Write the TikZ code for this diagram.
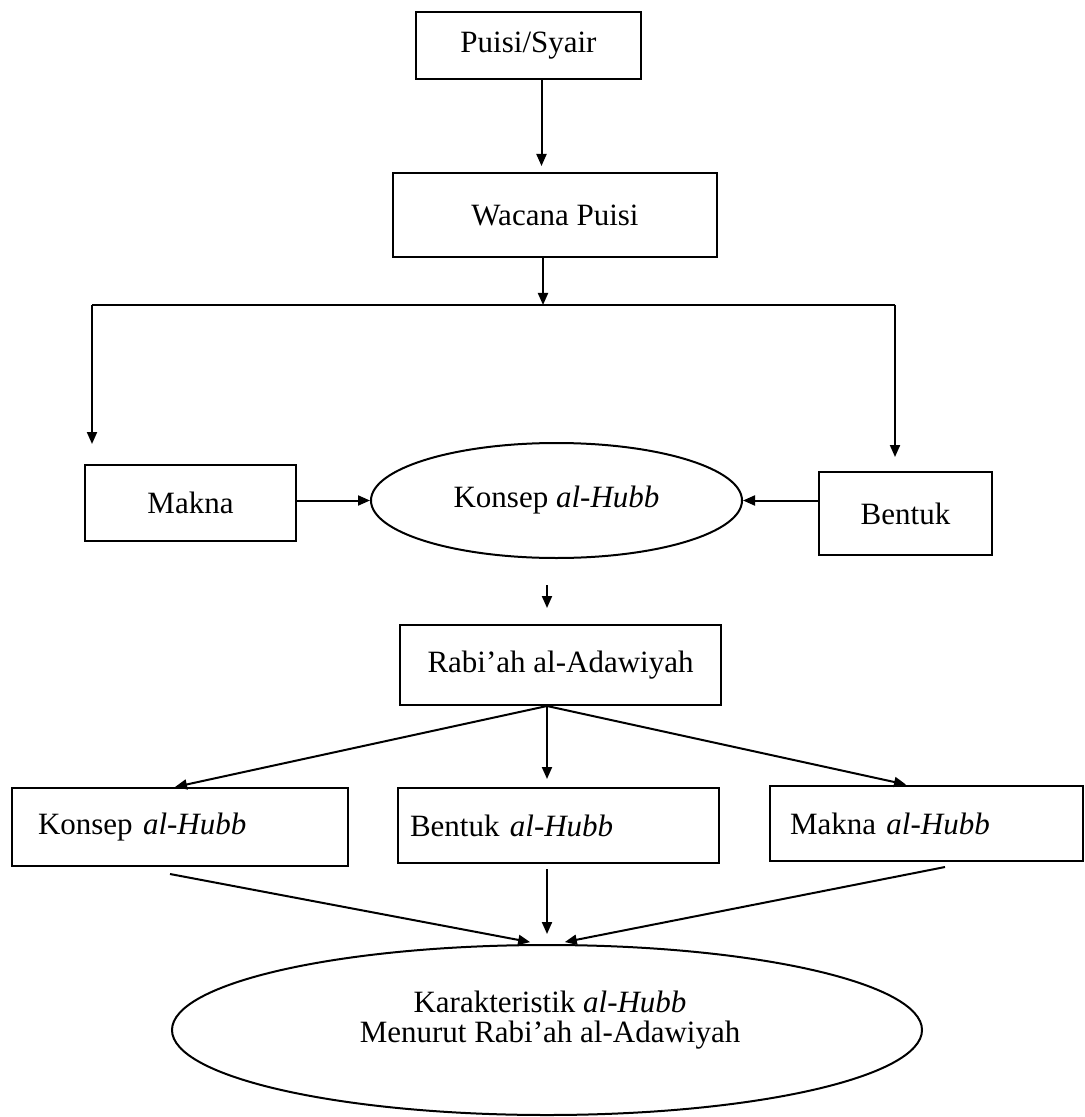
\documentclass[tikz,border=0pt]{standalone}
\usepackage{fontspec}
\setmainfont{Liberation Serif}
\usetikzlibrary{shapes.geometric,arrows.meta,calc}
\begin{document}
\begin{tikzpicture}[x=0.5pt,y=-0.5pt,
  txt/.style={font=\fontsize{15.5}{19}\selectfont},
  box/.style={draw, line width=1pt, rectangle, inner sep=0pt, txt},
  oval/.style={draw, line width=1pt, ellipse, inner sep=0pt, txt},
  arr/.style={-{Triangle[length=6pt,width=5pt]}, line width=1pt},
  ln/.style={line width=1pt}]
\fill[white] (0,0) rectangle (1084,1117);
\useasboundingbox (0,0) rectangle (1084,1117);

\node[box, minimum width=112.5pt, minimum height=33.5pt] (puisi) at (528.5,45.5) {Puisi/Syair};
\node[box, minimum width=162pt, minimum height=42pt] (wacana) at (555,215) {Wacana Puisi};
\node[box, minimum width=105.5pt, minimum height=38pt] (makna) at (190.5,503) {Makna};
\node[oval, minimum width=185.5pt, minimum height=57.5pt] (konsep) at (556.5,500.5) {Konsep \textit{al-Hubb}};
\node[box, minimum width=86.5pt, minimum height=41.5pt] (bentuk) at (905.5,513.5) {Bentuk};
\node[box, minimum width=160.5pt, minimum height=40pt] (rabiah) at (560.5,665) {Rabi’ah al-Adawiyah};
\node[box, minimum height=39pt, text width=142pt, inner xsep=13pt, align=left] (konsepH) at (180,827) {Konsep \textit{al-Hubb}};
\node[box, minimum height=37.5pt, text width=148.5pt, inner xsep=6pt, align=left] (bentukH) at (558.5,825.5) {Bentuk \textit{al-Hubb}};
\node[box, minimum height=37.5pt, text width=136.5pt, inner xsep=10pt, align=left] (maknaH) at (926.5,823.5) {Makna \textit{al-Hubb}};
\node[oval, minimum width=375pt, minimum height=85pt] (karak) at (547,1030) {};
\node[font=\fontsize{15.5}{15}\selectfont, align=center] (karaktext) at (550,1020) {Karakteristik \textit{al-Hubb}\\Menurut Rabi’ah al-Adawiyah};

\coordinate (jL) at (92,305);
\coordinate (jR) at (895,305);
\draw[arr, shorten >=3pt] ([xshift=6.5pt]puisi.south) -- ([xshift=6.5pt]puisi.south |- wacana.north);
\draw[arr] ([xshift=-6pt]wacana.south) -- ([xshift=-6pt]wacana.south |- jL);
\draw[ln] (jL) -- (jR);
\draw[arr, shorten >=10pt] (jL) -- (jL |- makna.north);
\draw[arr, shorten >=7pt] (jR) -- (jR |- bentuk.north);
\draw[arr] (makna.east |- konsep.west) -- (konsep.west);
\draw[arr] (bentuk.west |- konsep.east) -- (konsep.east);
\draw[arr, shorten <=13pt, shorten >=8pt] ([xshift=-4.75pt]konsep.south) -- ([xshift=-4.75pt]konsep.south |- rabiah.north);

\coordinate (rs) at ([xshift=-6.75pt]rabiah.south);
\draw[arr] (rs) -- ([xshift=-2.5pt]konsepH.north);
\draw[arr, shorten >=4pt] (rs) -- (rs |- bentukH.north);
\draw[arr, shorten >=1pt] (rs) -- ([xshift=-9.25pt]maknaH.north);

\draw[arr, shorten >=5pt] ([xshift=-5pt,yshift=-3.5pt]konsepH.south) -- ([xshift=-3.5pt]karak.north);
\draw[arr, shorten <=2.5pt, shorten >=5pt] ([xshift=-5.75pt]bentukH.south) -- ([xshift=-5.75pt]bentukH.south |- karak.north);
\draw[arr, shorten >=5pt] ([xshift=9.25pt,yshift=-2.5pt]maknaH.south) -- ([xshift=4pt]karak.north);
\end{tikzpicture}
\end{document}
